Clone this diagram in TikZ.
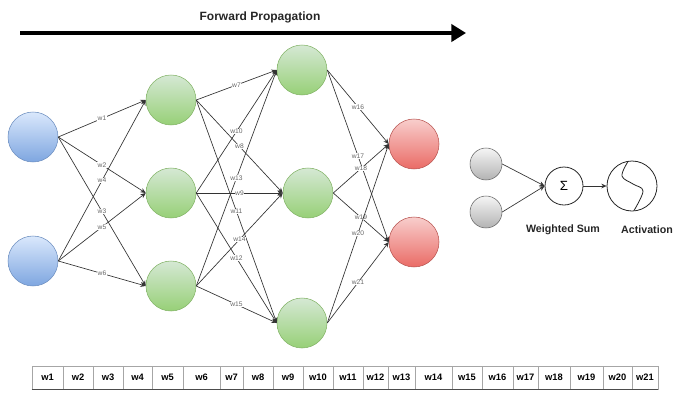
\documentclass[tikz,border=0pt]{standalone}
\usepackage{fontspec}
\setmainfont{Liberation Sans}
\usetikzlibrary{arrows.meta}
\definecolor{bluetop}{HTML}{DAE8FC}
\definecolor{bluebot}{HTML}{7EA6E0}
\definecolor{blueline}{HTML}{6C8EBF}
\definecolor{greentop}{HTML}{D5E8D4}
\definecolor{greenbot}{HTML}{97D077}
\definecolor{greenline}{HTML}{82B366}
\definecolor{redtop}{HTML}{F8CECC}
\definecolor{redbot}{HTML}{EA6B66}
\definecolor{redline}{HTML}{B85450}
\definecolor{graytop}{HTML}{F5F5F5}
\definecolor{graybot}{HTML}{B3B3B3}
\definecolor{grayline}{HTML}{666666}
\begin{document}
\begin{tikzpicture}[x=0.75pt,y=-0.75pt,
  neuron/.style={circle, minimum size=37.5pt, inner sep=0pt, line width=0.4pt},
  inp/.style={neuron, draw=blueline, top color=bluetop, bottom color=bluebot},
  hid/.style={neuron, draw=greenline, top color=greentop, bottom color=greenbot},
  outn/.style={neuron, draw=redline, top color=redtop, bottom color=redbot},
  grayn/.style={circle, minimum size=24pt, inner sep=0pt, draw=grayline, top color=graytop, bottom color=graybot},
  edge/.style={draw=black!80, line width=0.5pt, -{Stealth[length=4pt,width=3.5pt]}},
  wl/.style={font=\fontsize{5}{6}\selectfont, text=black!60, fill=white, inner sep=0.3pt, pos=0.5},
  cell/.style={draw=black!35, line width=0.5pt, minimum height=17.25pt, inner sep=0pt, font=\bfseries\fontsize{7}{8}\selectfont},
  lbl/.style={font=\bfseries\fontsize{8}{9}\selectfont, text=black!85}
]
\useasboundingbox (0,0) rectangle (677,393);

% top arrow
\node[font=\bfseries\fontsize{9}{10}\selectfont, text=black!85] (fp) at (260,17) {Forward Propagation};
\coordinate (fs) at (20,33);
\coordinate (fe) at (466,33);
\draw[line width=2.3pt, -{Triangle[length=11pt,width=13pt]}] (fs) -- (fe);

% neurons
\node[inp] (i1) at (33,137) {};
\node[inp] (i2) at (33,261) {};
\node[hid] (h1a) at (171,100) {};
\node[hid] (h1b) at (171,193) {};
\node[hid] (h1c) at (171,286) {};
\node[hid] (h2a) at (302,70) {};
\node[hid] (h2b) at (308,193) {};
\node[hid] (h2c) at (302,323) {};
\node[outn] (o1) at (414,144) {};
\node[outn] (o2) at (414,242) {};

% input -> hidden1
\draw[edge] (i1.east) -- node[wl]{w1} (h1a.west);
\draw[edge] (i1.east) -- node[wl]{w2} (h1b.west);
\draw[edge] (i1.east) -- node[wl]{w3} (h1c.west);
\draw[edge] (i2.east) -- node[wl]{w4} (h1a.west);
\draw[edge] (i2.east) -- node[wl]{w5} (h1b.west);
\draw[edge] (i2.east) -- node[wl]{w6} (h1c.west);

% hidden1 -> hidden2
\draw[edge] (h1a.east) -- node[wl]{w7} (h2a.west);
\draw[edge] (h1a.east) -- node[wl]{w8} (h2b.west);
\draw[edge] (h1a.east) -- node[wl]{w11} (h2c.west);
\draw[edge] (h1b.east) -- node[wl]{w10} (h2a.west);
\draw[edge] (h1b.east) -- node[wl]{w9} (h2b.west);
\draw[edge] (h1b.east) -- node[wl]{w12} (h2c.west);
\draw[edge] (h1c.east) -- node[wl]{w13} (h2a.west);
\draw[edge] (h1c.east) -- node[wl]{w14} (h2b.west);
\draw[edge] (h1c.east) -- node[wl]{w15} (h2c.west);

% hidden2 -> output
\draw[edge] (h2a.east) -- node[wl]{w16} (o1.west);
\draw[edge] (h2a.east) -- node[wl]{w17} (o2.west);
\draw[edge] (h2b.east) -- node[wl]{w18} (o1.west);
\draw[edge] (h2b.east) -- node[wl]{w19} (o2.west);
\draw[edge] (h2c.east) -- node[wl]{w20} (o1.west);
\draw[edge] (h2c.east) -- node[wl]{w21} (o2.west);

% single neuron
\node[grayn] (g1) at (486,164) {};
\node[grayn] (g2) at (486,212) {};
\node[circle, draw=black!85, line width=0.6pt, minimum size=28.5pt, inner sep=0pt, fill=white, font=\fontsize{10}{10}\selectfont] (sig) at (564,186) {Σ};
\node[circle, draw=black!85, line width=0.6pt, minimum size=37.5pt, inner sep=0pt, fill=white] (act) at (632,186) {};
\draw[black!85, line width=0.6pt] plot[smooth, tension=0.6] coordinates {(628,161.5) (622,176) (633,184) (643,191) (634,210.5)};
\draw[edge] (g1.east) -- (sig.west);
\draw[edge] (g2.east) -- (sig.west);
\draw[edge] (sig.east) -- (act.west);
\node[lbl] (ws) at (563,230) {Weighted Sum};
\node[lbl] (ac) at (647,230) {Activation};

% weight table
\foreach \a/\b/\t [count=\i] in {32/63/w1, 63/93/w2, 93/123/w3, 123/152/w4, 152/183/w5, 183/220/w6, 220/243/w7, 243/273/w8, 273/303/w9, 303/333/w10, 333/363/w11, 363/388/w12, 388/415/w13, 415/452/w14, 452/482/w15, 482/513/w16, 513/538/w17, 538/570/w18, 570/603/w19, 603/632/w20, 632/658/w21}
  \node[cell, minimum width={(\b-\a)*0.75pt}] (c\i) at ({(\a+\b)/2},377.5) {\t};
\draw[black!70, line width=0.6pt] (c1.south west) -- (c21.south east);
\end{tikzpicture}
\end{document}
